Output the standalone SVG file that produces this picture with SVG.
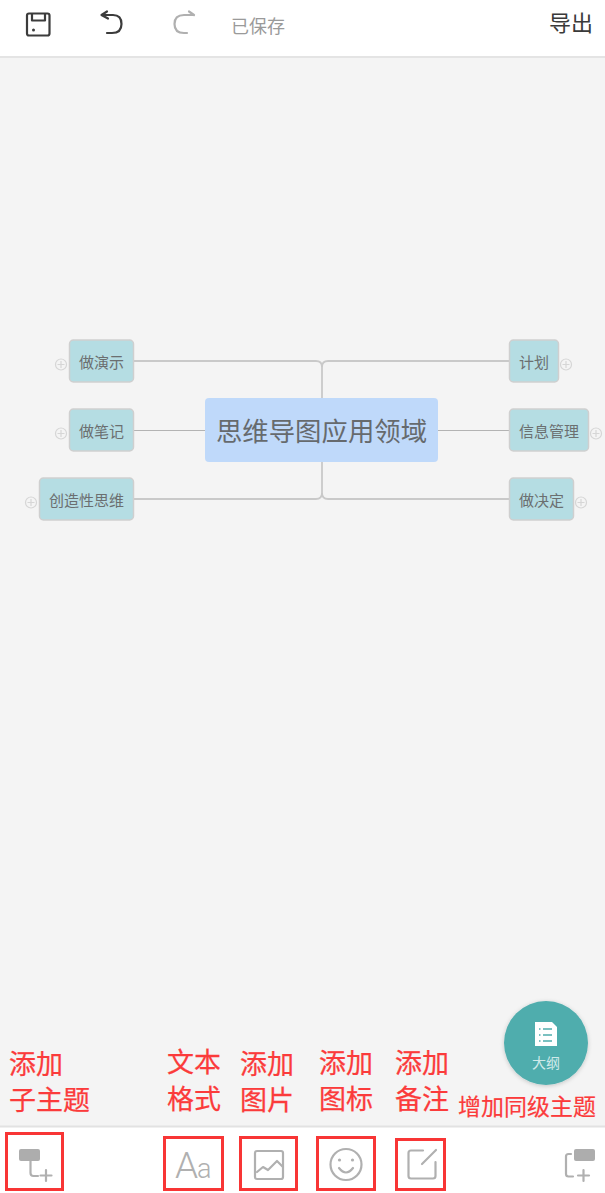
<svg xmlns="http://www.w3.org/2000/svg" width="605" height="1193" viewBox="0 0 605 1193">
<style>
text{font-family:"Noto Sans CJK SC","Liberation Sans",sans-serif}
.topic{fill:#b5dde3;stroke:#cfcfcf;stroke-width:1.5}
.tt{font-size:15px;fill:#6b6f70}
.link{fill:none;stroke:#c9c9c9;stroke-width:1.8}
.thin{fill:none;stroke:#b3b3b3;stroke-width:1.2}
.plus{fill:none;stroke:#d6d6d6;stroke-width:1.2}
.red{font-size:27px;fill:#fb3b3b;stroke:#fb3b3b;stroke-width:.25}
.box{fill:none;stroke:#f83535;stroke-width:3}
.ic{fill:none;stroke:#b0b0b0;stroke-width:2.2;stroke-linecap:round;stroke-linejoin:round}
.dk{fill:none;stroke:#3c3c3c;stroke-width:2.2;stroke-linecap:round;stroke-linejoin:round}
.aa{font-family:Roboto,"Liberation Sans",sans-serif;font-weight:300;fill:#b0b0b0}
</style>
<defs>
<g id="exp"><circle r="5.500" class="plus"/><path d="M-3.500 0H3.500M0-3.500V3.500" class="plus"/></g>
<filter id="sh" x="-20%" y="-20%" width="140%" height="140%"><feDropShadow dx="0" dy="1" stdDeviation="2" flood-color="#000" flood-opacity=".2"/></filter>
</defs>
<rect width="605" height="1193" fill="#f4f4f4"/>
<g id="top-bar">
<rect width="605" height="57" fill="#fff"/>
<rect y="56" width="605" height="2" fill="#e4e4e4"/>
<g id="save"><rect x="27" y="13.500" width="22.500" height="22" rx="2" class="dk"/><path d="M32 14V20.500H45V14" class="dk"/><circle cx="33.500" cy="30" r="1.500" fill="#3c3c3c"/></g>
<g id="undo"><path d="M102 15H113Q121.500 15 121.500 24Q121.500 33 112 33H107" class="dk"/><path d="M107 11.500L101.500 15L108 18.500" class="dk"/></g>
<g id="redo"><path d="M193 15H184Q174.500 15 174.500 24Q174.500 33 184 33H187" class="ic"/><path d="M189 11.500L194 15" class="ic"/></g>
<text x="231" y="33" font-size="18" fill="#9a9a9a">已保存</text>
<text x="549" y="31" font-size="22" fill="#3a3a3a">导出</text>
</g>
<g id="connectors">
<path class="link" d="M134 361H316Q322 361 322 367V398"/>
<path class="link" d="M509 361H328Q322 361 322 367"/>
<path class="link" d="M134 499H316Q322 499 322 493V462"/>
<path class="link" d="M509 499H328Q322 499 322 493"/>
<path class="thin" d="M134 430.500H205M438 430.500H509"/>
</g>
<g id="center"><rect x="205" y="398" width="233" height="64" rx="4" fill="#bfd9fa"/><text x="321.500" y="441" font-size="26.400" text-anchor="middle" fill="#666a6d">思维导图应用领域</text></g>
<g id="n1"><rect class="topic" x="69.500" y="340" width="64" height="42" rx="4"/><text class="tt" x="101.500" y="368" text-anchor="middle">做演示</text><use href="#exp" x="61" y="364.500"/></g>
<g id="n2"><rect class="topic" x="69.500" y="409" width="64" height="42" rx="4"/><text class="tt" x="101.500" y="437" text-anchor="middle">做笔记</text><use href="#exp" x="61" y="433.500"/></g>
<g id="n3"><rect class="topic" x="39.500" y="478" width="94" height="42" rx="4"/><text class="tt" x="86.500" y="506" text-anchor="middle">创造性思维</text><use href="#exp" x="31" y="502.500"/></g>
<g id="n4"><rect class="topic" x="509.500" y="340" width="49" height="42" rx="4"/><text class="tt" x="534" y="368" text-anchor="middle">计划</text><use href="#exp" x="566" y="364.500"/></g>
<g id="n5"><rect class="topic" x="509.500" y="409" width="79" height="42" rx="4"/><text class="tt" x="549" y="437" text-anchor="middle">信息管理</text><use href="#exp" x="596" y="433.500"/></g>
<g id="n6"><rect class="topic" x="509.500" y="478" width="64" height="42" rx="4"/><text class="tt" x="541.500" y="506" text-anchor="middle">做决定</text><use href="#exp" x="581" y="502.500"/></g>
<g id="outline-button">
<circle cx="546" cy="1043" r="42" fill="#50adad" filter="url(#sh)"/>
<path d="M535 1022H552L557 1027V1046H535Z" fill="#fff"/>
<path d="M543 1029H552M543 1035H552M543 1041H552M539 1029H540.500M539 1035H540.500M539 1041H540.500" stroke="#50adad" stroke-width="1.500" fill="none"/>
<text x="546" y="1068" font-size="14" text-anchor="middle" fill="#cfe9e9">大纲</text>
</g>
<g id="bottom-bar">
<rect y="1127" width="605" height="66" fill="#fff"/>
<rect y="1125.500" width="605" height="2" fill="#e2e2e2"/>
<path d="M30.500 1160V1173Q30.500 1176 33.500 1176H38" class="ic"/><rect x="19" y="1149" width="21" height="12" rx="2" fill="#adadad"/><path d="M40.500 1175.500H51.500M46 1170V1181" class="ic"/>
<text class="aa" x="175" y="1178" font-size="37">A</text><text class="aa" x="197" y="1178" font-size="27">a</text>
<rect x="255" y="1151" width="28" height="28" rx="2" class="ic"/><path d="M257 1172L263 1167L268 1170L277 1161L283 1167" class="ic"/>
<circle cx="346" cy="1164.500" r="15.500" class="ic"/><circle cx="339.500" cy="1160" r="1.600" fill="#b0b0b0"/><circle cx="352.500" cy="1160" r="1.600" fill="#b0b0b0"/><path d="M339 1168Q346 1177 353 1168" class="ic"/>
<path d="M423 1150.500H411Q408.500 1150.500 408.500 1153V1176Q408.500 1178.500 411 1178.500H433Q435.500 1178.500 435.500 1176V1162M422 1164L436 1150" class="ic"/>
<rect x="574" y="1149" width="21" height="12" rx="2" fill="#adadad"/><path d="M571 1154H568.500Q566 1154 566 1156.500V1174Q566 1176.500 568.500 1176.500H573M578 1175.500H589M583.500 1170V1181" class="ic"/>
</g>
<g id="annotations">
<rect class="box" x="6.500" y="1133.500" width="56" height="56"/>
<rect class="box" x="164.500" y="1137.500" width="58" height="52"/>
<rect class="box" x="240.500" y="1137.500" width="56" height="52"/>
<rect class="box" x="317.500" y="1137.500" width="57" height="52"/>
<rect class="box" x="396.500" y="1139.500" width="48" height="50"/>
<text class="red" x="9" y="1074">添加</text><text class="red" x="9" y="1110">子主题</text>
<text class="red" x="167" y="1072">文本</text><text class="red" x="167" y="1109">格式</text>
<text class="red" x="240" y="1074">添加</text><text class="red" x="240" y="1110">图片</text>
<text class="red" x="319" y="1073">添加</text><text class="red" x="319" y="1109">图标</text>
<text class="red" x="395" y="1073">添加</text><text class="red" x="395" y="1109">备注</text>
<text x="458" y="1115" font-size="23" fill="#fb3b3b" stroke="#fb3b3b" stroke-width=".2">增加同级主题</text>
</g>
</svg>
